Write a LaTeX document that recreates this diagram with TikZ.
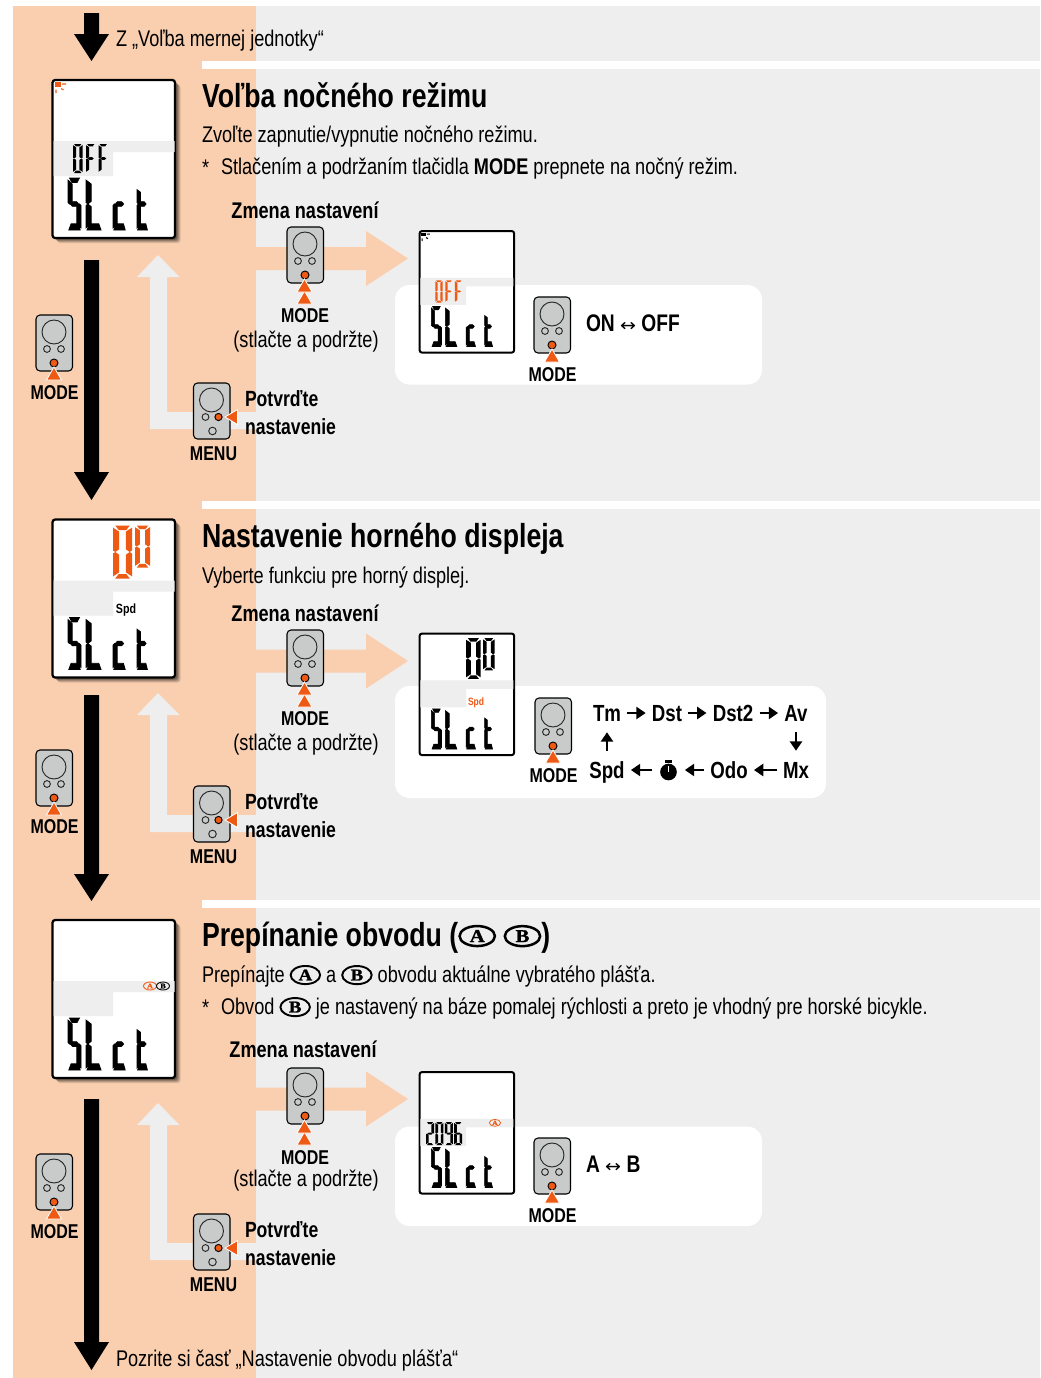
\documentclass[tikz,border=0pt]{standalone}
\usepackage{graphicx}
\usepackage{fontspec}
\setmainfont[FakeStretch=.8]{Liberation Sans}
\newfontfamily\ovalf[FakeBold=1.5,FakeStretch=1.15]{Liberation Serif}
\newfontfamily\symf[FakeStretch=1.1]{DejaVu Sans}
\usetikzlibrary{shapes.geometric,arrows.meta}
\definecolor{peach}{HTML}{F9CFB0}
\definecolor{pale}{HTML}{EEEEEE}
\definecolor{hot}{HTML}{EE5A14}
\definecolor{devgray}{HTML}{C9CACA}
\tikzset{
  x=.75pt,y=-.75pt,
  txt/.style={inner sep=0pt,outer sep=0pt,anchor=base west,text=black},
  ctxt/.style={txt,anchor=base},
  titlefont/.style={font=\bfseries\fontsize{25}{30}\selectfont},
  bodyfont/.style={font=\fontsize{17}{20}\selectfont},
  labfont/.style={font=\bfseries\fontsize{15}{18}\selectfont},
  headfont/.style={font=\bfseries\fontsize{17}{20}\selectfont},
  confirmfont/.style={font=\bfseries\fontsize{16.5}{20}\selectfont},
  valuefont/.style={font=\bfseries\fontsize{18}{20}\selectfont},
  flow/.style={font=\bfseries\fontsize{17.5}{20}\selectfont,inner sep=4.5pt,text height=12.5pt,text depth=0pt,text=black},
  flowarrow/.style={line width=2pt,-{Triangle[length=7pt,width=9pt]},black},
  tri/.style={fill=hot,draw=white,line width=.6pt},
  segline/.style={},
}
\newcommand\ovalmark[2][black]{\tikz[baseline={([yshift=-.07em]oo.base)}]\node[ellipse,draw=#1,text=#1,line width=.085em,inner sep=0pt,outer sep=0pt,minimum width=1.3em,minimum height=.8em,anchor=center] (oo) {\scalebox{.72}{\ovalf\bfseries #2}};}
\newcommand\ovaltitle[1]{\tikz[baseline={([yshift=-.12em]oo.base)}]\node[ellipse,draw=black,text=black,line width=.075em,inner sep=0pt,outer sep=0pt,minimum width=1.06em,minimum height=.6em,anchor=center] (oo) {\scalebox{.54}{\ovalf\bfseries #1}};}
% LCD segments in a 10 x 20 cell
\newcommand\sega{\fill[\segc,segline] (1.2,0)--(8.8,0)--(7,1.7)--(3,1.7)--cycle;}
\newcommand\segf{\fill[\segc,segline] (0,.8)--(0,9.4)--(1.2,10)--(3.2,9)--(3.2,2.3)--cycle;}
\newcommand\segb{\fill[\segc,segline] (10,.8)--(10,9.4)--(8.8,10)--(6.8,9)--(6.8,2.3)--cycle;}
\newcommand\sege{\fill[\segc,segline] (0,10.6)--(0,19.2)--(3.2,17.7)--(3.2,11)--(1.2,10)--cycle;}
\newcommand\segc{}
\newcommand\segC{\fill[\segc,segline] (10,10.6)--(10,19.2)--(6.8,17.7)--(6.8,11)--(8.8,10)--cycle;}
\newcommand\segd{\fill[\segc,segline] (1.2,20)--(8.8,20)--(7,18.3)--(3,18.3)--cycle;}
\newcommand\segD{\fill[\segc,segline] (.6,20)--(9.4,20)--(8,17.6)--(2.4,17.6)--cycle;}
\newcommand\segg{\fill[\segc,segline] (1.8,10)--(3.5,9.1)--(6.5,9.1)--(8.2,10)--(6.5,10.9)--(3.5,10.9)--cycle;}
\newcommand\segh{\fill[\segc,segline] (0,4.5)--(0,9.4)--(1.2,10)--(3.2,9)--(3.2,5.5)--cycle;}
\newcommand\lglyph[6]{\begin{scope}[shift={(#1,#2)},xscale=#3/10,yscale=#4/20]\renewcommand\segc{#6}\foreach \s in {#5}{\csname seg\s\endcsname}\end{scope}}
\newcommand\slct[1]{\begin{scope}[segline/.style={draw=black,line width=#1}]
  \lglyph{15.5}{98}{13}{52}{a,f,g,C,D}{black}
  \lglyph{33.5}{98}{16}{52}{f,e,D}{black}
  \lglyph{60.5}{98}{13}{52}{g,e,D}{black}
  \lglyph{84.5}{98}{11}{52}{h,e,g,D}{black}\end{scope}}
\newcommand\lcdbars{\fill[pale] (1,61)--(122,61)--(122,72)--(60.5,72)--(60.5,96)--(1,96)--cycle;}
\newcommand\sunmark[1]{\fill[#1] (2,2) rectangle (8,7);
  \draw[#1,line width=.8pt] (9.5,4)--(13.5,4) (8.5,8.5)--(11,10) (3.5,9.5)--(3.5,13);}
\newcommand\framebig{\foreach \d/\o in {5/.12,4/.14,3/.18,2/.25}{\fill[black,opacity=\o,rounded corners=2] (\d,\d) rectangle (123+\d,158+\d);}
  \draw[black,fill=white,line width=1.7pt,rounded corners=2] (0,0) rectangle (122.5,158);}
\newcommand\framesmall{\draw[black,fill=white,line width=1.5pt,rounded corners=2] (0,0) rectangle (123,158);}
\newcommand\lzero[5]{\lglyph{#1}{#2}{#3}{#4}{a,b,C,d,e,f}{#5}}
\newcommand\remote[3]{% x,y,kind (top-left)
  \begin{scope}[shift={(#1,#2)}]
  \draw[black,fill=devgray,line width=.8pt,rounded corners=3] (0,0) rectangle (36.5,56);
  \draw[black!85,line width=.7pt] (18,17) circle[radius=12];
  #3
  \end{scope}}
\newcommand\modebtn{\draw[black!85,line width=.7pt] (11,34) circle[radius=3.4] (25,34) circle[radius=3.4];
  \draw[black,fill=hot,line width=.7pt] (18,48) circle[radius=4];}
\newcommand\menubtn{\draw[black!85,line width=.7pt] (12,34) circle[radius=3.4] (19,48) circle[radius=3.8];
  \draw[black,fill=hot,line width=.7pt] (25,34) circle[radius=3.6];}
\newcommand\onetri[3]{\fill[tri] (#1,#2)--(#1+7.5,#2+13)--(#1-7.5,#2+13)--cycle;}
\newcommand\twotri[2]{\fill[tri] (#1,#2+12)--(#1+7.5,#2+25)--(#1-7.5,#2+25)--cycle;\fill[tri] (#1,#2)--(#1+7.5,#2+13)--(#1-7.5,#2+13)--cycle;}
\newcommand\lefttri[2]{\fill[tri] (#1,#2)--(#1+12.5,#2-7.5)--(#1+12.5,#2+7.5)--cycle;}
\newcommand\bigdown[3]{\fill[black] (84,#1)--(99,#1)--(99,#2)--(109,#2)--(91.5,#3)--(74,#2)--(84,#2)--cycle;}
\newcommand\peacharrow[1]{\fill[peach] (250,#1-11.5)--(366,#1-11.5)--(366,#1-27.5)--(408,#1)--(366,#1+27.5)--(366,#1+11.5)--(250,#1+11.5)--cycle;}
\newcommand\palearrow[2]{\fill[pale] (158,#1)--(179.5,#1+22)--(167,#1+22)--(167,#2)--(256,#2)--(256,#2+17)--(150,#2+17)--(150,#1+22)--(137,#1+22)--cycle;}
\begin{document}
\begin{tikzpicture}
\useasboundingbox (0,0) rectangle (1040,1378);
% backgrounds
\fill[pale] (256,6) rectangle (1040,1378);
\fill[peach] (13,6) rectangle (256,1378);
\foreach \y in {61,501,900}{\fill[white] (202,\y) rectangle (1040,\y+8);}
% flow arrows
\bigdown{13}{34}{61}
\bigdown{260}{472}{500}
\bigdown{695}{874}{901}
\bigdown{1099}{1342}{1370}
\peacharrow{258.5}\peacharrow{661}\peacharrow{1099}
\palearrow{255}{412}\palearrow{693}{815}\palearrow{1103}{1243}
% panels
\fill[white,rounded corners=11] (395,285) rectangle (762,384.5);
\fill[white,rounded corners=11] (395,686) rectangle (826,798);
\fill[white,rounded corners=11] (395,1126.5) rectangle (762,1226);
% big LCD 1
\begin{scope}[shift={(52.5,80)}]\framebig\lcdbars\sunmark{hot}\slct{.6pt}
  \lglyph{20.5}{64}{9.5}{29}{a,b,C,d,e,f}{black}\lglyph{33.5}{64}{9.5}{29}{a,f,g,e}{black}\lglyph{46}{64}{9.5}{29}{a,f,g,e}{black}
\end{scope}
% big LCD 2
\begin{scope}[shift={(52.5,519.5)}]\framebig\lcdbars\slct{.6pt}
  \lzero{60.5}{6}{19}{53}{hot}\lzero{82.5}{6}{15}{42}{hot}
  \node[txt,anchor=center,font=\bfseries\fontsize{10}{12}\selectfont] (spda) at (73.5,91) {Spd};
\end{scope}
% big LCD 3
\begin{scope}[shift={(52.5,920)}]\framebig\lcdbars\slct{.6pt}
  \node[font=\fontsize{7.5}{8}\selectfont,inner sep=0pt] (oa) at (97.5,66) {\ovalmark[hot]{A}};
  \node[font=\fontsize{7.5}{8}\selectfont,inner sep=0pt] (ob) at (110.5,66) {\ovalmark{B}};
\end{scope}
% small LCD 1
\begin{scope}[shift={(419.5,231)},scale=.77]\framesmall\lcdbars\sunmark{black}\slct{.45pt}
  \lglyph{20.5}{64}{9.5}{29}{a,b,C,d,e,f}{hot}\lglyph{33.5}{64}{9.5}{29}{a,f,g,e}{hot}\lglyph{46}{64}{9.5}{29}{a,f,g,e}{hot}
\end{scope}
% small LCD 2
\begin{scope}[shift={(419.5,633.5)},scale=.77]\framesmall\lcdbars\slct{.45pt}
  \lzero{60.5}{6}{19}{53}{black}\lzero{82.5}{6}{15}{42}{black}
  \node[txt,anchor=center,text=hot,font=\bfseries\fontsize{8}{10}\selectfont] (spdb) at (73.5,90) {Spd};
\end{scope}
% small LCD 3
\begin{scope}[shift={(419.5,1072)},scale=.77]\framesmall\lcdbars\slct{.45pt}
  \lglyph{8.5}{65}{10.4}{30}{a,b,g,e,d}{black}\lglyph{20.7}{65}{10.4}{30}{a,b,C,d,e,f}{black}\lglyph{32.9}{65}{10.4}{30}{a,b,C,d,f,g}{black}\lglyph{45.1}{65}{10.4}{30}{a,C,d,e,f,g}{black}
  \node[font=\fontsize{6.5}{6}\selectfont,inner sep=0pt] (oc) at (98,66) {\ovalmark[hot]{A}};
\end{scope}
% remotes
\remote{287}{227}{\modebtn}\twotri{304.5}{279}
\remote{287}{630}{\modebtn}\twotri{304.5}{682}
\remote{287}{1068}{\modebtn}\twotri{304.5}{1120}
\remote{36}{315}{\modebtn}\onetri{54}{367}{}
\remote{36}{750}{\modebtn}\onetri{54}{802}{}
\remote{36}{1154}{\modebtn}\onetri{54}{1206}{}
\remote{193.5}{383}{\menubtn}\lefttri{225}{417}
\remote{193.5}{786}{\menubtn}\lefttri{225}{820}
\remote{193.5}{1214}{\menubtn}\lefttri{225}{1248}
\remote{534}{297}{\modebtn}\onetri{552}{349}{}
\remote{535}{698}{\modebtn}\onetri{553}{750}{}
\remote{534}{1138}{\modebtn}\onetri{552}{1190}{}
% top / bottom notes
\node[txt,bodyfont] (from) at (116,46) {Z „Voľba mernej jednotky“};
\node[txt,bodyfont] (next) at (116,1366) {Pozrite si časť „Nastavenie obvodu plášťa“};
% section 1
\node[txt,titlefont] (t1) at (202,107) {Voľba nočného režimu};
\node[txt,bodyfont] (b1) at (202,142) {Zvoľte zapnutie/vypnutie nočného režimu.};
\node[txt,bodyfont] (s1) at (202,175) {*};
\node[txt,bodyfont] (c1) at (221,174) {Stlačením a podržaním tlačidla \textbf{MODE} prepnete na nočný režim.};
\node[ctxt,headfont] (z1) at (305,218) {Zmena nastavení};
\node[ctxt,labfont] (m1) at (305,322) {MODE};
\node[ctxt,bodyfont] (h1) at (306,347) {(stlačte a podržte)};
\node[txt,confirmfont] (p1) at (245,406) {Potvrďte};
\node[txt,confirmfont] (n1) at (245,434) {nastavenie};
\node[ctxt,labfont] (e1) at (213.5,460) {MENU};
\node[ctxt,labfont] (l1) at (54.5,399) {MODE};
\node[ctxt,labfont] (k1) at (552.5,381) {MODE};
\node[txt,valuefont] (v1) at (586,331) {ON {\symf\mdseries\fontsize{13}{14}\selectfont ↔} OFF};
% section 2
\node[txt,titlefont] (t2) at (202,547) {Nastavenie horného displeja};
\node[txt,bodyfont] (b2) at (202,583) {Vyberte funkciu pre horný displej.};
\node[ctxt,headfont] (z2) at (305,621) {Zmena nastavení};
\node[ctxt,labfont] (m2) at (305,725) {MODE};
\node[ctxt,bodyfont] (h2) at (306,750) {(stlačte a podržte)};
\node[txt,confirmfont] (p2) at (245,809) {Potvrďte};
\node[txt,confirmfont] (n2) at (245,837) {nastavenie};
\node[ctxt,labfont] (e2) at (213.5,863) {MENU};
\node[ctxt,labfont] (l2) at (54.5,833) {MODE};
\node[ctxt,labfont] (k2) at (553.5,782) {MODE};
\node[flow] (tm) at (607,713) {Tm};
\node[flow] (dst) at (667,713) {Dst};
\node[flow] (dsb) at (733,713) {Dst2};
\node[flow] (av) at (796,713) {Av};
\node[flow] (mx) at (796,770) {Mx};
\node[flow] (odo) at (729,770) {Odo};
\node[circle,fill=black,inner sep=0pt,outer sep=6pt,minimum size=12.5pt] (sw) at (668.5,772) {};
\fill[black] (665,759.5) rectangle (672,762.5);
\fill[white] (667.7,772)--(669.3,772)--(669.3,765.5)--(667.7,765.5)--cycle;
\node[flow] (spd) at (607,770) {Spd};
\draw[flowarrow] (tm) -- (dst);
\draw[flowarrow] (dst) -- (dsb);
\draw[flowarrow] (dsb) -- (av);
\draw[flowarrow,shorten <=3.5pt,shorten >=3.5pt] (av) -- (mx);
\draw[flowarrow] (mx) -- (odo);
\draw[flowarrow] (odo.west) -- (sw.east |- odo.west);
\draw[flowarrow] (sw.west |- spd.east) -- (spd.east);
\draw[flowarrow,shorten <=3.5pt,shorten >=3.5pt] (spd) -- (tm);
% section 3
\node[txt,titlefont] (t3) at (202,946) {Prepínanie obvodu (\ovaltitle{A} \ovaltitle{B})};
\node[txt,bodyfont] (b3) at (202,982) {Prepínajte \ovalmark{A} a \ovalmark{B} obvodu aktuálne vybratého plášťa.};
\node[txt,bodyfont] (s3) at (202,1015) {*};
\node[txt,bodyfont] (c3) at (221,1014) {Obvod \ovalmark{B} je nastavený na báze pomalej rýchlosti a preto je vhodný pre horské bicykle.};
\node[ctxt,headfont] (z3) at (303,1057) {Zmena nastavení};
\node[ctxt,labfont] (m3) at (305,1164) {MODE};
\node[ctxt,bodyfont] (h3) at (306,1186) {(stlačte a podržte)};
\node[txt,confirmfont] (p3) at (245,1237) {Potvrďte};
\node[txt,confirmfont] (n3) at (245,1265) {nastavenie};
\node[ctxt,labfont] (e3) at (213.5,1291) {MENU};
\node[ctxt,labfont] (l3) at (54.5,1238) {MODE};
\node[ctxt,labfont] (k3) at (552.5,1222) {MODE};
\node[txt,valuefont] (v3) at (586,1172) {A {\symf\mdseries\fontsize{13}{14}\selectfont ↔} B};
\end{tikzpicture}
\end{document}
